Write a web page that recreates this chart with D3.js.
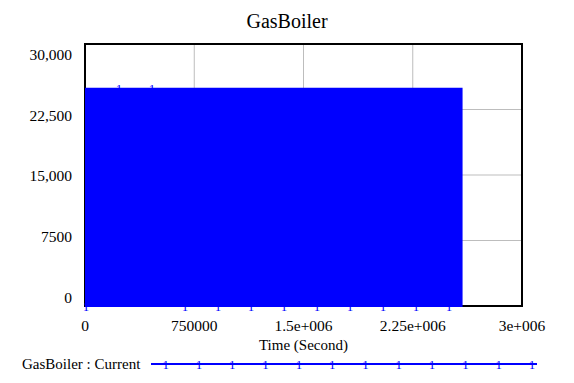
<!DOCTYPE html>
<html>
<head>
<meta charset="utf-8">
<script src="https://cdn.jsdelivr.net/npm/d3@7"></script>
<style>
  body { margin: 0; background: #fff; }
  svg { display: block; font-family: "Liberation Serif", "Times New Roman", serif; }
</style>
</head>
<body>
<svg id="chart" width="574" height="383"></svg>
<script>
// GasBoiler : Current oscillates too fast to resolve, so it shows as its min/max band
const bandTime = [0, 2592000];
const bandLow = [0, 0];
const bandHigh = [25000, 25000];

// positions of the "1" series markers along the curve
const markerTime = [7000, 233000, 460000, 686000, 913000, 1140000, 1366000, 1593000, 1819000, 2046000, 2272000, 2499000];
const markerValue = [0, 25000, 25000, 0, 0, 0, 0, 0, 0, 0, 0, 0];

const xTicks = [0, 750000, 1500000, 2250000, 3000000];
const xTickLabels = ['0', '750000', '1.5e+006', '2.25e+006', '3e+006'];
const yTicks = [0, 7500, 15000, 22500, 30000];
const yTickLabels = ['0', '7500', '15,000', '22,500', '30,000'];

const svg = d3.select('#chart');
const width = 574;
const height = 383;
const margin = { top: 44, right: 52, bottom: 77, left: 85 };
const innerWidth = width - margin.left - margin.right;
const innerHeight = height - margin.top - margin.bottom;
const blue = '#0000ff';

const x = d3.scaleLinear().domain([0, 3000000]).range([0, innerWidth]);
const y = d3.scaleLinear().domain([0, 30000]).range([innerHeight, 0]);
// Vensim squeezes the value labels a little inside the frame
const yLabel = d3.scaleLinear().domain([0, 30000]).range([258.7, 16]);

const plot = svg.append('g')
  .attr('transform', `translate(${margin.left}, ${margin.top})`);

// grid
plot.append('g')
  .selectAll('line')
  .data(xTicks.slice(1, -1))
  .enter()
  .append('line')
  .attr('x1', (d) => x(d)).attr('x2', (d) => x(d))
  .attr('y1', 0).attr('y2', innerHeight)
  .attr('stroke', '#bdbdbd');

plot.append('g')
  .selectAll('line')
  .data(yTicks.slice(1, -1))
  .enter()
  .append('line')
  .attr('x1', 0).attr('x2', innerWidth)
  .attr('y1', (d) => y(d)).attr('y2', (d) => y(d))
  .attr('stroke', '#bdbdbd');

// frame
plot.append('rect')
  .attr('width', innerWidth)
  .attr('height', innerHeight)
  .attr('fill', 'none')
  .attr('stroke', '#000')
  .attr('stroke-width', 2);

// series band
const band = bandTime.map((t, i) => ({ t, lo: bandLow[i], hi: bandHigh[i] }));
plot.append('path')
  .datum(band)
  .attr('fill', blue)
  .attr('d', d3.area()
    .x((d) => x(d.t))
    .y0((d) => y(d.lo) + 1)
    .y1((d) => y(d.hi)));

// markers
plot.append('g')
  .selectAll('text')
  .data(markerTime.map((t, i) => ({ t, v: markerValue[i] })))
  .enter()
  .append('text')
  .attr('x', (d) => x(d.t))
  .attr('y', (d) => y(d.v) + 5)
  .attr('text-anchor', 'middle')
  .attr('font-size', 13)
  .attr('fill', blue)
  .text('1');

// tick labels
plot.append('g')
  .selectAll('text')
  .data(yTicks)
  .enter()
  .append('text')
  .attr('x', -13)
  .attr('y', (d) => yLabel(d))
  .attr('text-anchor', 'end')
  .attr('font-size', 15.5)
  .text((d, i) => yTickLabels[i]);

plot.append('g')
  .selectAll('text')
  .data(xTicks)
  .enter()
  .append('text')
  .attr('x', (d) => x(d))
  .attr('y', innerHeight + 25)
  .attr('text-anchor', 'middle')
  .attr('font-size', 15.5)
  .text((d, i) => xTickLabels[i]);

plot.append('text')
  .attr('x', innerWidth / 2)
  .attr('y', innerHeight + 44)
  .attr('text-anchor', 'middle')
  .attr('font-size', 15)
  .text('Time (Second)');

// title
svg.append('text')
  .attr('x', width / 2)
  .attr('y', 28)
  .attr('text-anchor', 'middle')
  .attr('font-size', 20)
  .text('GasBoiler');

// legend
const legend = svg.append('g').attr('transform', 'translate(0, 364)');
legend.append('text')
  .attr('x', 22)
  .attr('y', 5)
  .attr('font-size', 15)
  .text('GasBoiler : Current');
legend.append('line')
  .attr('x1', 151).attr('x2', 537)
  .attr('stroke', blue)
  .attr('stroke-width', 2);
legend.selectAll('text.mark')
  .data(d3.range(12))
  .enter()
  .append('text')
  .attr('class', 'mark')
  .attr('x', (i) => 165.7 + i * 33.3)
  .attr('y', 4.5)
  .attr('text-anchor', 'middle')
  .attr('font-size', 13)
  .attr('fill', blue)
  .text('1');
</script>
</body>
</html>
